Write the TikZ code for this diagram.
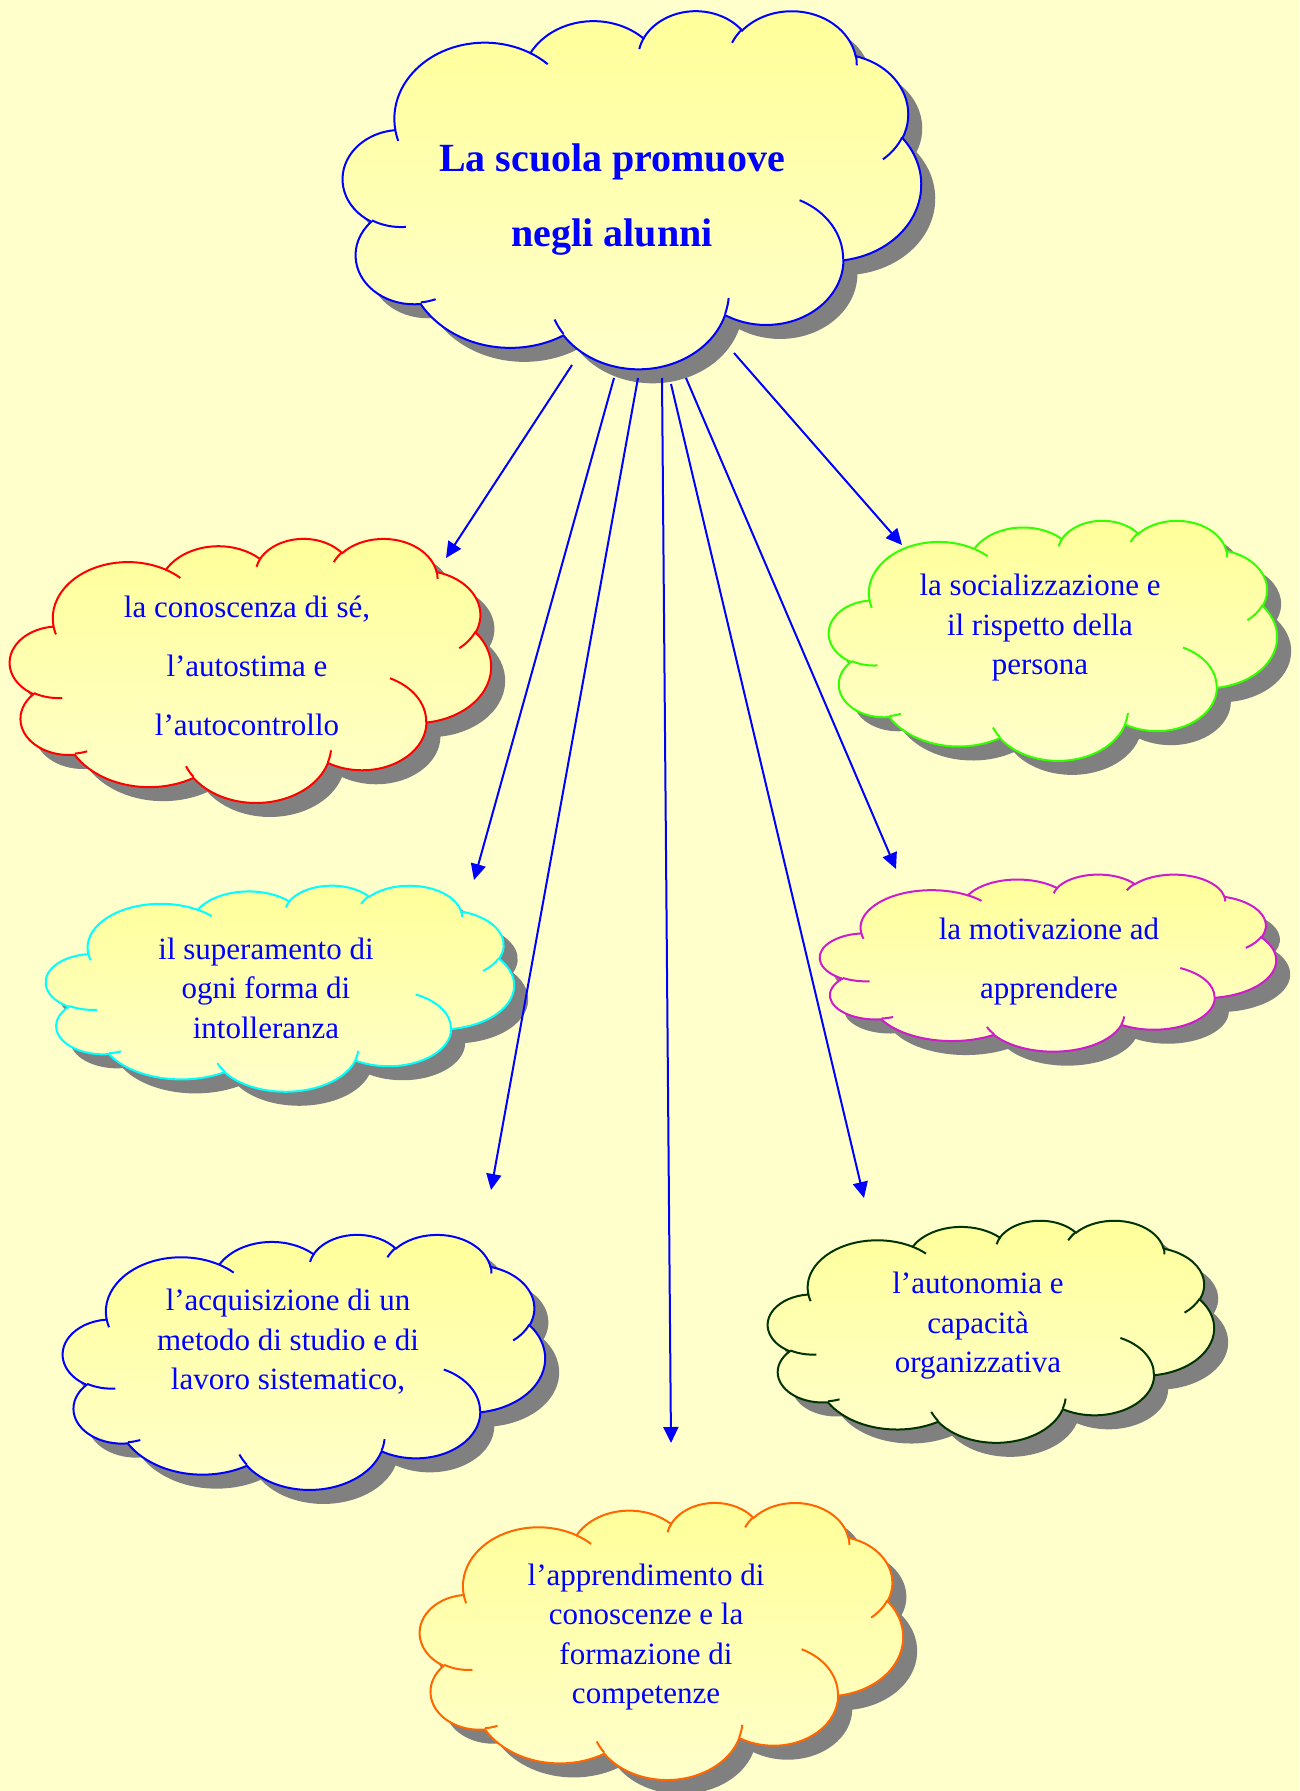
\documentclass[tikz,border=0pt]{standalone}
\usepackage{fontspec}
\setmainfont{Liberation Serif}
\usepackage{xcolor}
\usepackage{tikz}
\usetikzlibrary{arrows.meta}

\definecolor{bgyellow}{HTML}{FFFFCC}
\definecolor{cloudtop}{HTML}{FFFF99}
\definecolor{shadowgray}{HTML}{808080}
\definecolor{cgreen}{HTML}{33FF00}
\definecolor{ccyan}{HTML}{00FFFF}
\definecolor{cmagenta}{HTML}{CC1CCC}
\definecolor{cdkgreen}{HTML}{003300}
\definecolor{corange}{HTML}{FF6600}

% one arc of the outline: x radius, y radius, start and sweep (angles seen on the ellipse)
\newcommand{\oarc}[4]{arc[x radius=#1, y radius=#2, start angle={vang(#3,#1,#2)},
  delta angle={#4+mod(vang(#3+#4,#1,#2)-vang(#3,#1,#2)-#4+1260,360)-180}]}

% outline in a 43.2 x 43.2 box
\newcommand{\cloudshape}{(3.9,14.37)
  \oarc{6.753}{9.19}{-190.48748}{123.78053}
  \oarc{5.333}{7.267}{-144.10238}{89.94523}
  \oarc{4.365}{5.945}{-145.80792}{99.72302}
  \oarc{4.857}{6.595}{-130.98607}{117.24173}
  \oarc{5.333}{7.273}{-78.70888}{109.02692}
  \oarc{6.775}{9.22}{-46.26725}{130.269}
  \oarc{5.785}{7.867}{0.62502}{114.03333}
  \oarc{6.752}{9.215}{22.4516}{115.17255}
  \oarc{7.72}{10.543}{66.24263}{75.71102}
  \oarc{4.36}{5.918}{-274.94208}{146.73557}
  \oarc{4.345}{5.945}{-246.8285}{152.51885} -- cycle}

% the small inner arcs
\newcommand{\cloudlines}{
  (4.693,26.177) \oarc{4.345}{5.945}{86.742}{26.4295}
  (6.928,34.899) \oarc{4.36}{5.918}{73.61047}{11.44747}
  (16.478,39.09) \oarc{6.752}{9.215}{137.62415}{14.0811}
  (28.827,34.751) \oarc{6.752}{9.215}{6.45327}{15.99835}
  (34.129,22.954) \oarc{5.785}{7.867}{-70.29235}{70.91737}
  (41.798,15.354) \oarc{5.333}{7.273}{30.31803}{27.7515}
  (38.324,5.426) \oarc{4.857}{6.595}{-13.74433}{14.8589}
  (29.078,3.952) \oarc{4.857}{6.595}{-149.18145}{18.19537}
  (22.141,4.72) \oarc{4.365}{5.945}{-163.49427}{17.68635}
  (14.0,5.192) \oarc{6.753}{9.19}{-66.70695}{12.31935}
  (4.127,15.789) \oarc{6.753}{9.19}{157.65435}{11.85817}}

% left, top, width, height, colour
\newcommand{\drawcloud}[5]{
  \begin{scope}[shift={(#1+14,#2+14)}, xscale=#3/43.2, yscale=#4/43.2]
    \fill[cloudshadow] \cloudshape;
  \end{scope}
  \begin{scope}[shift={(#1,#2)}, xscale=#3/43.2, yscale=#4/43.2]
    \path[puff, draw=#5] \cloudshape;
    \draw[puffline, #5] \cloudlines;
  \end{scope}}

\begin{document}
\begin{tikzpicture}[x=1pt, y=-1pt,
  declare function={vang(\a,\w,\h)=atan2(\w*sin(\a),\h*cos(\a));},
  cloudshadow/.style={fill=shadowgray},
  puff/.style={top color=cloudtop, bottom color=bgyellow, line width=2pt},
  puffline/.style={line width=2pt},
  txt/.style={text=blue, align=center, font=\fontsize{31}{39.5}\selectfont},
  link/.style={draw=blue, line width=2pt, -{Triangle[length=16pt,width=15pt]}}]

\fill[bgyellow] (0,0) rectangle (1299,1791);
\useasboundingbox (0,0) rectangle (1299,1791);

\drawcloud{343}{10}{578}{358}{blue}
\drawcloud{10}{538}{481}{264}{red}
\drawcloud{829}{520}{448}{240}{cgreen}
\drawcloud{46}{885}{468}{206}{ccyan}
\drawcloud{820}{874}{456}{177}{cmagenta}
\drawcloud{63}{1234}{482}{255}{blue}
\drawcloud{768}{1220}{446}{222}{cdkgreen}
\drawcloud{420}{1502}{483}{277}{corange}

\node[txt, font=\bfseries\fontsize{40}{75}\selectfont] (0) at (612,200) {La scuola promuove\\negli alunni};
\node[txt, font=\fontsize{31}{59}\selectfont] (1) at (247,666) {la conoscenza di sé,\\l’autostima e\\l’autocontrollo};
\node[txt] (2) at (1040,628) {la socializzazione e\\il rispetto della\\persona};
\node[txt] (3) at (266,988) {il superamento di\\ogni forma di\\intolleranza};
\node[txt, font=\fontsize{31}{59}\selectfont] (4) at (1049,962) {la motivazione ad\\apprendere};
\node[txt] (5) at (288,1342) {l’acquisizione di un\\metodo di studio e di\\lavoro sistematico,};
\node[txt] (6) at (978,1326) {l’autonomia e\\capacità\\organizzativa};
\node[txt] (7) at (646,1637) {l’apprendimento di\\conoscenze e la\\formazione di\\competenze};

\coordinate (s1) at (572,365);
\coordinate (e1) at (446,558);
\coordinate (s2) at (614,378);
\coordinate (e2) at (474,880);
\coordinate (s3) at (638,378);
\coordinate (e3) at (491,1190);
\coordinate (s4) at (662,378);
\coordinate (e4) at (671,1443);
\coordinate (s5) at (671,384);
\coordinate (e5) at (864,1198);
\coordinate (s6) at (686,378);
\coordinate (e6) at (896,869);
\coordinate (s7) at (734,353);
\coordinate (e7) at (902,545);

\path[link] (s1) -- (e1);
\path[link] (s2) -- (e2);
\path[link] (s3) -- (e3);
\path[link] (s4) -- (e4);
\path[link] (s5) -- (e5);
\path[link] (s6) -- (e6);
\path[link] (s7) -- (e7);
\end{tikzpicture}
\end{document}
